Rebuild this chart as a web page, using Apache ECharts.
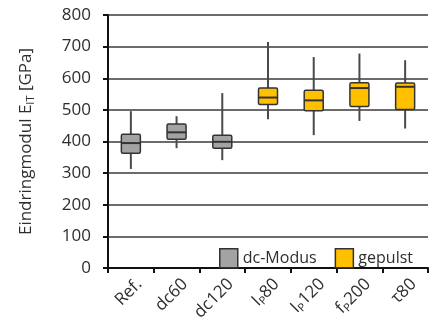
<!DOCTYPE html>
<html>
<head>
<meta charset="utf-8">
<script src="https://cdn.jsdelivr.net/npm/echarts@6/dist/echarts.min.js"></script>
<style>
  html, body { margin: 0; padding: 0; background: #fff; }
  #chart { width: 438px; height: 329px; }
</style>
</head>
<body>
<div id="chart"></div>
<script>
// categories (rich-text keys for the subscripts)
const categories = ["Ref.", "dc60", "dc120", "Ip80", "Ip120", "fp200", "τ80"];
const catLabels = ["Ref.", "dc60", "dc120", "{n|I}{s|P}{n|80}", "{n|I}{s|P}{n|120}", "{n|f}{s|P}{n|200}", "τ80"];

// [min, q1, median, q3, max]
const dcModus = [
  [313, 363, 395, 423, 496],
  [379, 407, 429, 455, 480],
  [341, 379, 399, 420, 553]
];
const dcCats = ["Ref.", "dc60", "dc120"];

const gepulst = [
  [470, 517, 539, 569, 715],
  [420, 497, 530, 562, 667],
  [465, 511, 569, 586, 678],
  [441, 501, 573, 585, 657]
];
const gepCats = ["Ip80", "Ip120", "fp200", "τ80"];

const yTicks = [0, 100, 200, 300, 400, 500, 600, 700, 800];

function toData(cats, vals) {
  return vals.map((v, i) => [categories.indexOf(cats[i])].concat(v));
}

function renderBox(params, api) {
  const x = api.value(0);
  const pMin = api.coord([x, api.value(1)]);
  const pQ1 = api.coord([x, api.value(2)]);
  const pMed = api.coord([x, api.value(3)]);
  const pQ3 = api.coord([x, api.value(4)]);
  const pMax = api.coord([x, api.value(5)]);
  const w = 19;
  const cx = pMin[0];
  const fill = api.visual("color");
  return {
    type: "group",
    children: [
      { type: "line", shape: { x1: cx, y1: pMax[1], x2: cx, y2: pQ3[1] }, style: { stroke: "#4a4a4a", lineWidth: 2 } },
      { type: "line", shape: { x1: cx, y1: pQ1[1], x2: cx, y2: pMin[1] }, style: { stroke: "#4a4a4a", lineWidth: 2 } },
      { type: "rect", shape: { x: cx - w / 2, y: pQ3[1], width: w, height: pQ1[1] - pQ3[1], r: 1.5 }, style: { fill: fill, stroke: "#333", lineWidth: 1.5 } },
      { type: "line", shape: { x1: cx - w / 2, y1: pMed[1], x2: cx + w / 2, y2: pMed[1] }, style: { stroke: "#333", lineWidth: 2 } }
    ]
  };
}

const chart = echarts.init(document.getElementById("chart"));

const font = "'Open Sans', 'DejaVu Sans', sans-serif";
const txt = "#2e2e2e";

const option = {
  backgroundColor: "#ffffff",
  animation: false,
  textStyle: { fontFamily: font },
  grid: { left: 108, right: 10, top: 15, bottom: 61 },
  legend: {
    right: 20,
    top: 243,
    itemWidth: 18,
    itemHeight: 19,
    itemGap: 18,
    icon: "rect",
    textStyle: { fontSize: 16, color: txt, fontFamily: font },
    itemStyle: { borderColor: "#333", borderWidth: 1.5 },
    data: ["dc-Modus", "gepulst"]
  },
  xAxis: {
    type: "category",
    data: categories,
    boundaryGap: true,
    axisLine: { lineStyle: { color: "#111", width: 2 } },
    axisTick: { show: true, length: 5, lineStyle: { color: "#111", width: 2 } },
    axisLabel: {
      interval: 0,
      rotate: 45,
      margin: 22,
      padding: [0, -12, 0, 0],
      color: txt,
      fontSize: 17,
      formatter: (v) => catLabels[categories.indexOf(v)],
      rich: {
        n: { fontSize: 17, color: txt, fontFamily: font },
        s: { fontSize: 11, color: txt, fontFamily: font, verticalAlign: "bottom", padding: [9, 0, 0, 0] }
      }
    },
    splitLine: { show: false }
  },
  yAxis: {
    type: "value",
    min: 0,
    max: 800,
    interval: 100,
    name: "{n|Eindringmodul E}{s|IT}{n| [GPa]}",
    nameLocation: "middle",
    nameGap: 72,
    nameRotate: 90,
    nameTextStyle: {
      rich: {
        n: { fontSize: 17, color: txt, fontFamily: font },
        s: { fontSize: 11, color: txt, fontFamily: font, verticalAlign: "bottom", padding: [9, 0, 0, 0] }
      }
    },
    axisLine: { show: true, lineStyle: { color: "#111", width: 2 } },
    axisTick: { show: true, length: 5, lineStyle: { color: "#111", width: 2 } },
    axisLabel: {
      color: txt,
      fontSize: 17,
      margin: 17,
      formatter: (v) => (yTicks.indexOf(v) >= 0 ? String(v) : "")
    },
    splitLine: { show: true, lineStyle: { color: "#3a3a3a", width: 1.5 } }
  },
  series: [
    {
      name: "dc-Modus",
      type: "custom",
      renderItem: renderBox,
      itemStyle: { color: "#a3a3a3" },
      encode: { x: 0, y: [1, 2, 3, 4, 5] },
      data: toData(dcCats, dcModus)
    },
    {
      name: "gepulst",
      type: "custom",
      renderItem: renderBox,
      itemStyle: { color: "#ffc000" },
      encode: { x: 0, y: [1, 2, 3, 4, 5] },
      data: toData(gepCats, gepulst)
    }
  ]
};

chart.setOption(option, true);
</script>
</body>
</html>
